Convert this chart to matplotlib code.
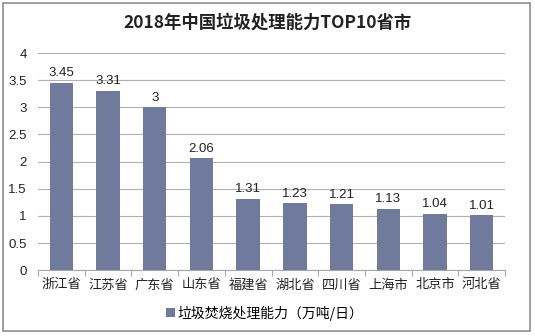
import matplotlib
matplotlib.use('Agg')
import matplotlib.pyplot as plt
from matplotlib.patches import Rectangle

plt.rcParams['font.family'] = ['Noto Sans CJK SC', 'DejaVu Sans']

# 数据
provinces = ['浙江省', '江苏省', '广东省', '山东省', '福建省', '湖北省', '四川省', '上海市', '北京市', '河北省']
capacity = [3.45, 3.31, 3, 2.06, 1.31, 1.23, 1.21, 1.13, 1.04, 1.01]
labels = ['3.45', '3.31', '3', '2.06', '1.31', '1.23', '1.21', '1.13', '1.04', '1.01']
series_name = '垃圾焚烧处理能力（万吨/日）'
title = '2018年中国垃圾处理能力TOP10省市'

bar_color = '#6f7a9d'

fig = plt.figure(figsize=(5.35, 3.36), dpi=100)
ax = fig.add_axes([0.071, 0.196, 0.873, 0.646])

x = range(len(provinces))
bars = ax.bar(x, capacity, width=0.5, color=bar_color, label=series_name, zorder=3)

for b, t in zip(bars, labels):
    ax.text(b.get_x() + b.get_width() / 2, b.get_height() + 0.07, t,
            ha='center', va='bottom', fontsize=9.5, color='#222222',
            family=['Liberation Sans', 'DejaVu Sans'])

ax.set_ylim(0, 4)
ax.set_xlim(-0.5, len(provinces) - 0.5)
ax.set_yticks([0, 0.5, 1, 1.5, 2, 2.5, 3, 3.5, 4])
ax.set_yticklabels(['0', '0.5', '1', '1.5', '2', '2.5', '3', '3.5', '4'],
                   family=['Liberation Sans', 'DejaVu Sans'])
ax.grid(axis='y', color='#b0b0b0', linewidth=0.8, zorder=0)

# 类别之间的刻度
ax.set_xticks([i - 0.5 for i in range(len(provinces) + 1)], minor=False)
ax.set_xticklabels([])
ax.set_xticks(list(x), minor=True)
ax.set_xticklabels(provinces, minor=True)
ax.tick_params(axis='x', which='major', length=4, color='#a6a6a6', direction='out')
ax.tick_params(axis='x', which='minor', length=0, pad=6, labelsize=9.5, labelcolor='#222222')
ax.tick_params(axis='y', length=0, labelsize=9.5, labelcolor='#222222', pad=8)

for s in ['top', 'right', 'left']:
    ax.spines[s].set_visible(False)
ax.spines['bottom'].set_color('#a6a6a6')

fig.text(0.5, 0.932, title, ha='center', va='center', fontsize=12.5, fontweight='semibold', color='#222222')

fig.legend(handles=[bars], labels=[series_name], loc='center', bbox_to_anchor=(0.495, 0.068),
           frameon=False, fontsize=10, handlelength=0.6, handleheight=0.6, handletextpad=0.2)

fig.patches.append(Rectangle((0.006, 0.015), 0.985, 0.975, transform=fig.transFigure,
                             fill=False, edgecolor='#8c8c8c', linewidth=1.2))

fig.savefig('out.png', dpi=100, facecolor='white')
